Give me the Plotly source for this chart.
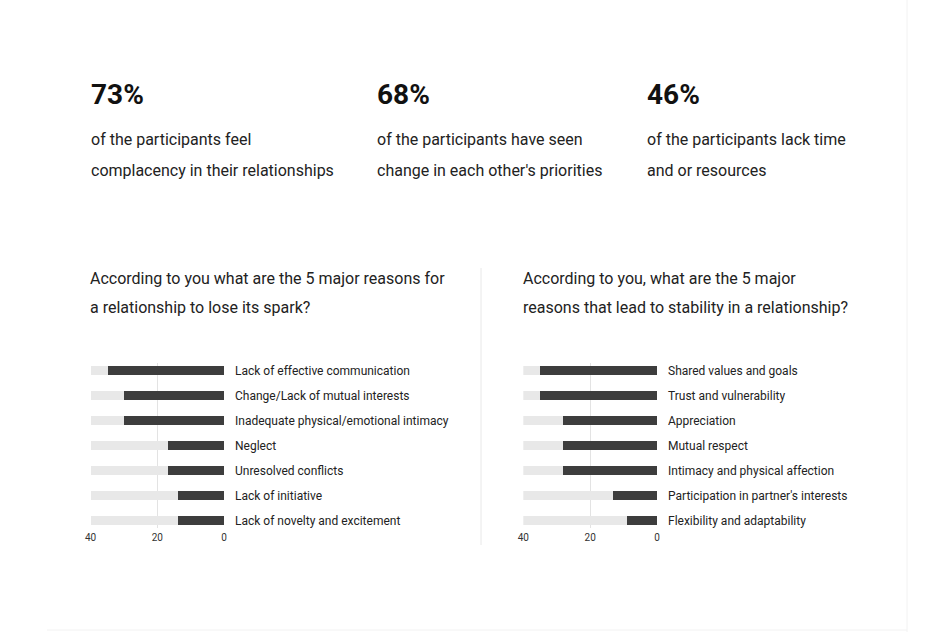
import plotly.graph_objects as go

W, H = 947, 632

# ---- data ----
stat_values = ["73%", "68%", "46%"]
stat_line1 = ["of the participants feel", "of the participants have seen", "of the participants lack time"]
stat_line2 = ["complacency in their relationships", "change in each other's priorities", "and or resources"]

title_left = ["According to you what are the 5 major reasons for", "a relationship to lose its spark?"]
title_right = ["According to you, what are the 5 major", "reasons that lead to stability in a relationship?"]

spark_reasons = ["Lack of effective communication", "Change/Lack of mutual interests",
                 "Inadequate physical/emotional intimacy", "Neglect", "Unresolved conflicts",
                 "Lack of initiative", "Lack of novelty and excitement"]
spark_values = [35, 30, 30, 17, 17, 14, 14]

stab_reasons = ["Shared values and goals", "Trust and vulnerability", "Appreciation",
                "Mutual respect", "Intimacy and physical affection",
                "Participation in partner's interests", "Flexibility and adaptability"]
stab_values = [35, 35, 28, 28, 28, 13, 9]

axis_max = 40
tick_vals = [40, 20, 0]

TRACK = "#e8e8e8"
DARK = "#3d3d3d"
TEXT = "#222222"
FONT = "Roboto"

def px_x(x):
    return x / W

def px_y(y):
    return 1 - y / H

fig = go.Figure()

for i, (cats, vals) in enumerate([(spark_reasons, spark_values), (stab_reasons, stab_values)]):
    xa = "x" if i == 0 else "x2"
    ya = "y" if i == 0 else "y2"
    fig.add_trace(go.Bar(y=cats, x=[axis_max] * len(cats), orientation="h",
                         marker=dict(color=TRACK, line=dict(width=0)), width=0.36,
                         xaxis=xa, yaxis=ya, hoverinfo="skip", showlegend=False))
    fig.add_trace(go.Bar(y=cats, x=vals, orientation="h",
                         marker=dict(color=DARK, line=dict(width=0)), width=0.36,
                         xaxis=xa, yaxis=ya, showlegend=False))

ydom = [px_y(528), px_y(363)]
common_x = dict(range=[axis_max, 0], tickvals=tick_vals, showgrid=True, gridcolor="#e3e3e3",
                gridwidth=1, zeroline=False, showline=False, ticks="", automargin=False,
                tickfont=dict(family=FONT, size=10, color="#333"), ticklabelstandoff=2)
common_y = dict(range=[6.3, -0.3], side="right", showgrid=False, zeroline=False, showline=False,
                ticks="", automargin=False,
                tickfont=dict(family=FONT, size=12, color=TEXT), ticklabelstandoff=10)

fig.update_layout(
    width=W, height=H, margin=dict(l=0, r=0, t=0, b=0, pad=0, autoexpand=False),
    paper_bgcolor="white", plot_bgcolor="rgba(0,0,0,0)",
    barmode="overlay", bargap=0,
    xaxis=dict(domain=[px_x(90.6), px_x(224)], anchor="y", **common_x),
    yaxis=dict(domain=ydom, anchor="x", **common_y),
    xaxis2=dict(domain=[px_x(523.3), px_x(657)], anchor="y2", **common_x),
    yaxis2=dict(domain=ydom, anchor="x2", **common_y),
    font=dict(family=FONT, color=TEXT),
)

anns = []
stat_x = [89, 375, 645]
for sx, v, l1, l2 in zip(stat_x, stat_values, stat_line1, stat_line2):
    anns.append(dict(x=px_x(sx), y=px_y(94), text="<b>%s</b>" % v, font=dict(family=FONT, size=28, color="#111")))
    anns.append(dict(x=px_x(sx), y=px_y(140), text=l1, font=dict(family=FONT, size=16, color=TEXT)))
    anns.append(dict(x=px_x(sx), y=px_y(170), text=l2, font=dict(family=FONT, size=16, color=TEXT)))

for tx, lines in [(88, title_left), (521, title_right)]:
    for j, line in enumerate(lines):
        anns.append(dict(x=px_x(tx), y=px_y(278 + 29.5 * j), text=line, font=dict(family=FONT, size=16, color=TEXT)))

for a in anns:
    a.update(xref="paper", yref="paper", xanchor="left", yanchor="middle", showarrow=False)
fig.update_layout(annotations=anns)

fig.update_layout(shapes=[
    dict(type="line", xref="paper", yref="paper", x0=px_x(481), x1=px_x(481), y0=px_y(268), y1=px_y(545),
         line=dict(color="#e8e8e8", width=1)),
    dict(type="line", xref="paper", yref="paper", x0=px_x(907), x1=px_x(907), y0=px_y(0), y1=px_y(632),
         line=dict(color="#f2f2f2", width=1)),
    dict(type="line", xref="paper", yref="paper", x0=px_x(47), x1=px_x(907), y0=px_y(630), y1=px_y(630),
         line=dict(color="#f2f2f2", width=1)),
])

fig.write_html("out.html")
